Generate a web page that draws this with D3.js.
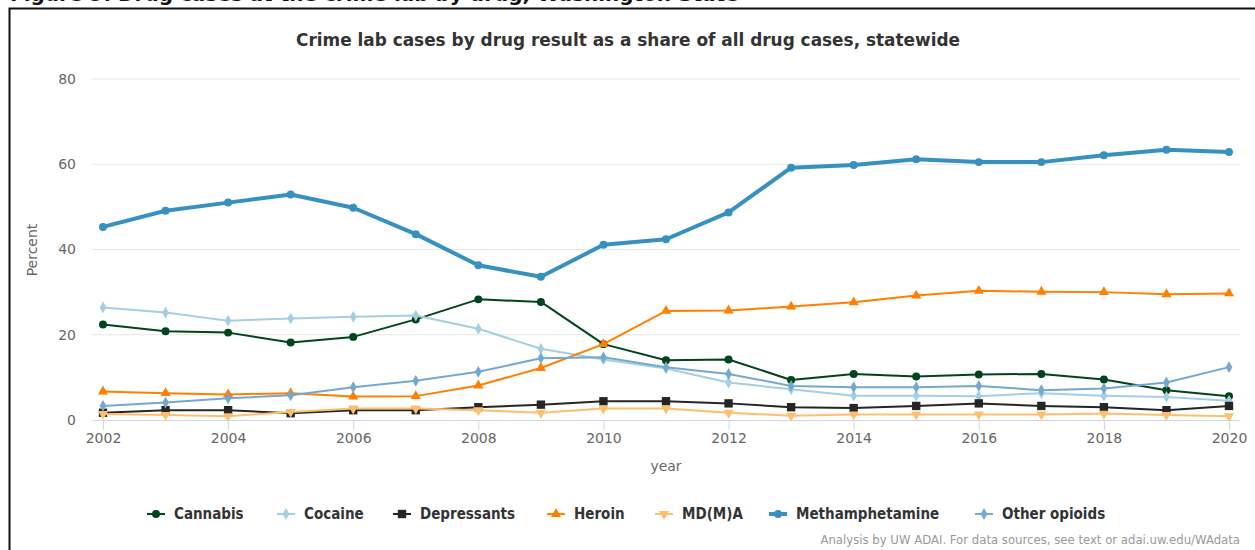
<!DOCTYPE html>
<html>
<head>
<meta charset="utf-8">
<script src="https://cdn.jsdelivr.net/npm/d3@7"></script>
<style>
  body { margin: 0; background: #fff; }
  svg { display: block; }
</style>
</head>
<body>
<div id="chart"></div>
<script>
// data
var years = [2002,2003,2004,2005,2006,2007,2008,2009,2010,2011,2012,2013,2014,2015,2016,2017,2018,2019,2020];
var cannabis = [22.4,20.8,20.5,18.2,19.5,23.6,28.3,27.7,17.8,14.0,14.2,9.4,10.8,10.2,10.7,10.8,9.5,7.0,5.6];
var cocaine = [26.4,25.2,23.3,23.8,24.2,24.5,21.4,16.7,14.2,12.1,8.8,7.2,5.7,5.7,5.6,6.3,5.7,5.4,4.5];
var depressants = [1.7,2.3,2.3,1.6,2.3,2.3,3.0,3.6,4.4,4.4,3.9,3.0,2.8,3.3,3.9,3.3,3.0,2.3,3.3];
var heroin = [6.7,6.3,6.0,6.3,5.5,5.6,8.1,12.2,17.8,25.6,25.7,26.6,27.6,29.2,30.3,30.1,30.0,29.5,29.7];
var mdma = [1.4,1.2,0.9,1.9,2.7,2.7,2.3,1.7,2.7,2.7,1.7,1.0,1.3,1.3,1.3,1.3,1.5,1.2,0.9];
var meth = [45.3,49.1,51.0,52.9,49.8,43.6,36.3,33.6,41.1,42.4,48.7,59.2,59.8,61.2,60.5,60.5,62.1,63.4,62.9];
var otherOpioids = [3.3,4.1,5.1,5.8,7.7,9.2,11.3,14.5,14.7,12.4,10.8,8.0,7.7,7.7,8.0,7.0,7.4,8.8,12.4];

var seriesNames = ["Cannabis","Cocaine","Depressants","Heroin","MD(M)A","Methamphetamine","Other opioids"];
var yTicks = [0,20,40,60,80];
var xTicks = [2002,2004,2006,2008,2010,2012,2014,2016,2018,2020];

var series = [
  {name: seriesNames[0], values: cannabis, color: "#00441b", symbol: d3.symbolCircle, size: 50, width: 2},
  {name: seriesNames[1], values: cocaine, color: "#a6cee3", symbol: d3.symbolDiamond, size: 40, width: 2},
  {name: seriesNames[2], values: depressants, color: "#252525", symbol: d3.symbolSquare, size: 70, width: 2},
  {name: seriesNames[3], values: heroin, color: "#ff7f00", symbol: d3.symbolTriangle, size: 45, width: 2},
  {name: seriesNames[4], values: mdma, color: "#fdbf6f", symbol: d3.symbolTriangle, size: 45, width: 2, flip: true},
  {name: seriesNames[5], values: meth, color: "#3690c0", symbol: d3.symbolCircle, size: 50, width: 4},
  {name: seriesNames[6], values: otherOpioids, color: "#74a9cf", symbol: d3.symbolDiamond, size: 40, width: 2}
];

var width = 1255, height = 550;
var svg = d3.select("#chart").append("svg")
    .attr("width", width)
    .attr("height", height);

// page heading, cropped at the top like in the screenshot
svg.append("text")
    .attr("x", 10).attr("y", 1)
    .style("font-family", "'DejaVu Sans', sans-serif")
    .style("font-weight", "bold")
    .style("font-size", "20px")
    .attr("fill", "#111")
    .text("Figure 9. Drug cases at the crime lab by drug, Washington State");
svg.append("rect")
    .attr("x", 9.5).attr("y", 8.5)
    .attr("width", 1260).attr("height", 560)
    .attr("fill", "#fff")
    .attr("stroke", "#111")
    .attr("stroke-width", 2);

var x = d3.scaleLinear().domain([2002, 2020]).range([103, 1229]);
var y = d3.scaleLinear().domain([0, 80]).range([420, 79]);

// grid
svg.append("g").selectAll("line")
    .data(yTicks.slice(1))
    .join("line")
    .attr("x1", 92).attr("x2", 1240)
    .attr("y1", function(d){ return y(d); })
    .attr("y2", function(d){ return y(d); })
    .attr("stroke", "#e6e6e6");

// y labels
var yAxis = svg.append("g")
    .attr("transform", "translate(76,0)")
    .call(d3.axisLeft(y).tickValues(yTicks).tickSize(0).tickPadding(0));
yAxis.select(".domain").remove();
yAxis.selectAll("text")
    .style("font-family", "'DejaVu Sans', sans-serif")
    .style("font-size", "14px")
    .attr("fill", "#666");

// x axis
var xAxis = svg.append("g")
    .attr("transform", "translate(0,420)")
    .call(d3.axisBottom(x).tickValues(xTicks).tickFormat(d3.format("d")).tickSize(10).tickPadding(3));
xAxis.select(".domain")
    .attr("d", "M92.5,0.5H1240.5")
    .attr("stroke", "#ccd6eb");
xAxis.selectAll(".tick line").attr("stroke", "#ccd6eb");
xAxis.selectAll("text")
    .style("font-family", "'DejaVu Sans', sans-serif")
    .style("font-size", "14px")
    .attr("fill", "#666");

svg.append("text")
    .attr("x", 666).attr("y", 471)
    .attr("text-anchor", "middle")
    .style("font-family", "'DejaVu Sans', sans-serif")
    .style("font-size", "14px")
    .attr("fill", "#666")
    .text("year");

svg.append("text")
    .attr("transform", "translate(37,250) rotate(-90)")
    .attr("text-anchor", "middle")
    .style("font-family", "'DejaVu Sans', sans-serif")
    .style("font-size", "14px")
    .attr("fill", "#666")
    .text("Percent");

// title
svg.append("text")
    .attr("x", 628).attr("y", 46)
    .attr("text-anchor", "middle")
    .attr("textLength", 664)
    .attr("lengthAdjust", "spacingAndGlyphs")
    .style("font-family", "'DejaVu Sans Condensed', 'DejaVu Sans', sans-serif")
    .style("font-weight", "bold")
    .style("font-size", "17px")
    .attr("fill", "#333")
    .text("Crime lab cases by drug result as a share of all drug cases, statewide");

var line = d3.line()
    .x(function(d, i){ return x(years[i]); })
    .y(function(d){ return y(d); });

function markerPath(s) {
  return d3.symbol().type(s.symbol).size(s.size)();
}

series.forEach(function(s) {
  var g = svg.append("g");
  g.append("path")
      .attr("d", line(s.values))
      .attr("fill", "none")
      .attr("stroke", s.color)
      .attr("stroke-width", s.width)
      .attr("stroke-linejoin", "round");
  g.selectAll("path.m")
      .data(s.values)
      .join("path")
      .attr("class", "m")
      .attr("d", markerPath(s))
      .attr("transform", function(d, i){
        return "translate(" + x(years[i]) + "," + y(d) + ")" + (s.flip ? " rotate(180)" : "");
      })
      .attr("fill", s.color);
});

// legend
var legendX = [147, 277, 393, 547, 655, 769, 975];
var legend = svg.append("g").selectAll("g")
    .data(series)
    .join("g")
    .attr("transform", function(d, i){ return "translate(" + legendX[i] + ",514)"; });
legend.append("line")
    .attr("x1", 0).attr("x2", 18)
    .attr("stroke", function(d){ return d.color; })
    .attr("stroke-width", function(d){ return d.width; });
legend.append("path")
    .attr("d", function(d){ return markerPath(d); })
    .attr("transform", function(d){ return "translate(9,0)" + (d.flip ? " rotate(180)" : ""); })
    .attr("fill", function(d){ return d.color; });
legend.append("text")
    .attr("x", 27).attr("y", 5)
    .style("font-family", "'DejaVu Sans Condensed', 'DejaVu Sans', sans-serif")
    .style("font-weight", "bold")
    .style("font-size", "15px")
    .attr("fill", "#333")
    .text(function(d){ return d.name; });

// credit
svg.append("text")
    .attr("x", 1240).attr("y", 544)
    .attr("text-anchor", "end")
    .style("font-family", "'DejaVu Sans Condensed', 'DejaVu Sans', sans-serif")
    .style("font-size", "13px")
    .attr("fill", "#999")
    .text("Analysis by UW ADAI. For data sources, see text or adai.uw.edu/WAdata");
</script>
</body>
</html>
